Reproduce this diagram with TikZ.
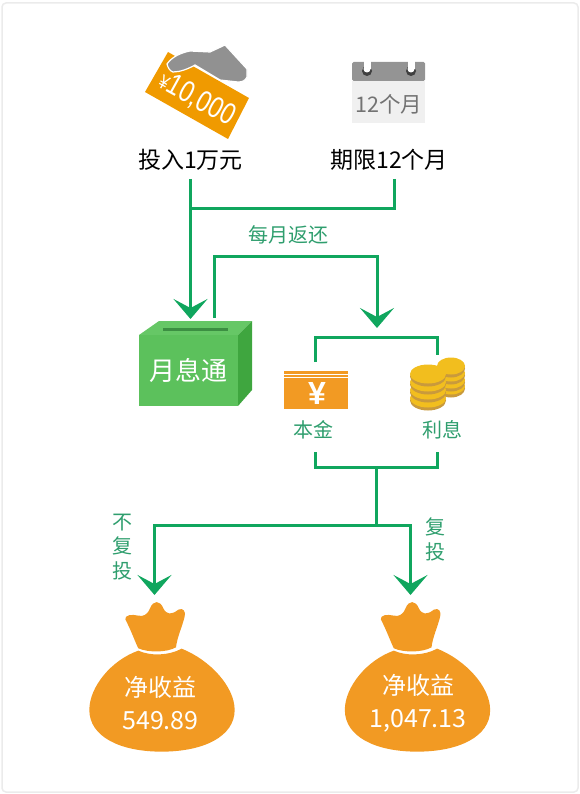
\documentclass[tikz,border=0pt]{standalone}
\usepackage{fontspec}
\setmainfont{Noto Sans CJK SC}
\newfontfamily\latinfont{Liberation Sans}
\usetikzlibrary{arrows.meta}
\definecolor{kgreen}{HTML}{10A65E}
\definecolor{ktext}{HTML}{2F9E6E}
\definecolor{korange}{HTML}{F29A23}
\definecolor{kcard}{HTML}{F09A00}
\definecolor{kgold}{HTML}{F2BE1E}
\definecolor{kedge}{HTML}{C99A3C}
\definecolor{kfront}{HTML}{5CC15C}
\definecolor{ktop}{HTML}{66C766}
\definecolor{kside}{HTML}{3FA63F}
\definecolor{kslot}{HTML}{3C8F42}
\tikzset{
  inset sep/.style={inner sep=0pt, outer sep=0pt},
  ktitle/.style={inset sep, text=black, minimum height=38pt, font=\fontsize{23}{26}\selectfont},
  klabel/.style={inset sep, text=ktext, align=center, font=\fontsize{20}{24.5}\selectfont},
  kmoney/.style={inset sep, text=white, align=center, font=\fontsize{24}{33}\selectfont},
  flow/.style={-{Stealth[length=20pt, width=34pt, inset=9pt]}, draw=kgreen, line width=3pt},
  wire/.style={draw=kgreen, line width=3pt},
  moneybag/.pic={
    \fill[korange, x=0.3333pt, y=-0.3333pt] (205,445) .. controls (195,425) and (185,395) .. (166,358)
      .. controls (164,345) and (185,342) .. (205,347) .. controls (220,350) and (232,345) .. (240,325)
      .. controls (250,300) and (270,300) .. (280,325) .. controls (290,345) and (305,345) .. (325,329)
      .. controls (340,322) and (348,335) .. (344,350) .. controls (335,385) and (322,410) .. (318,442)
      .. controls (290,458) and (235,458) .. (205,445) -- cycle;
    \fill[korange, x=0.3333pt, y=-0.3333pt] (205,452) .. controls (240,468) and (295,468) .. (335,446)
      .. controls (420,480) and (494,560) .. (494,630) .. controls (494,710) and (400,755) .. (275,755)
      .. controls (150,755) and (58,710) .. (58,630) .. controls (58,560) and (125,480) .. (205,452) -- cycle;
  },
}
\begin{document}
\begin{tikzpicture}[x=1pt, y=-1pt]
  \useasboundingbox (0,0) rectangle (580,794);
  \draw[draw=black!8, line width=1.5pt, rounded corners=4pt] (2,3) rectangle (578,792);

  \fill[fill=kcard] (145,92) -- (168,52) -- (249,98) -- (228,139) -- cycle;
  \node[inset sep, text=white, rotate=-29, font=\latinfont\fontsize{30}{30}\selectfont] (note) at (197,99)
    {\scalebox{.8}[1]{{\fontsize{20}{20}\selectfont ¥}10,000}};
  \fill[fill=black!43, draw=white, line width=1.2pt] (167,64) .. controls (172,57) and (180,53) .. (190,51)
    -- (210,52) -- (225,45) -- (247,69) -- (247,77) .. controls (245,81) and (242,82) .. (238,82)
    -- (220,80) -- (195,65) .. controls (188,69) and (180,72) .. (173,72) .. controls (170,71) and (168,68) .. (167,64) -- cycle;

  \fill[fill=black!6] (352,81) rectangle (425,123);
  \fill[fill=black!42, rounded corners=1.5pt] (352,81) -- (352,62) -- (425,62) -- (425,81) -- cycle;
  \foreach \x in {367,411}{
    \fill[black!75] (\x,71) circle[radius=5pt];
    \fill[white] (\x-3.5,61) rectangle (\x+3.5,69);
    \fill[white] (\x,69) circle[radius=3.5pt];
  }
  \node[inset sep, text=black!55, font=\fontsize{21.5}{24}\selectfont] (month) at (389,104) {12个月};

  \node[ktitle] (invest) at (190.5,160) {投入1万元};
  \node[ktitle] (term) at (389,160) {期限12个月};
  \coordinate (merge) at (190.5,208.5);
  \coordinate (boxtop) at (190.5,319);
  \draw[flow] (invest.south) -- (boxtop);
  \draw[wire] ([xshift=5pt]term.south) |- (merge);

  \fill[fill=ktop] (139,335) -- (159,321) -- (252,321) -- (238,335) -- cycle;
  \fill[fill=kside] (238,335) -- (252,321) -- (252,390) -- (238,406) -- cycle;
  \node[inset sep, fill=kfront, minimum width=99pt, minimum height=71pt, text=white,
    font=\fontsize{26}{30}\selectfont] (pool) at (188.5,370.5) {月息通};
  \fill[fill=kslot] (163,327.5) rectangle (228,330.5);
  \coordinate (payout) at (377,256);
  \coordinate (bracket) at (377,328);
  \draw[flow] ([xshift=25.5pt, yshift=17pt]pool.north) |- (payout) -- (bracket);

  \node[klabel] (monthly) at (288,235) {每月返还};

  \fill[fill=korange] (284,371) rectangle (348,373.5);
  \fill[fill=korange] (284,374.5) rectangle (348,376.5);
  \node[inset sep, fill=korange, minimum width=64pt, minimum height=31pt] (cash) at (316,393.5) {};
  \node[inset sep, text=white, font=\latinfont\bfseries\fontsize{32}{32}\selectfont] (yen) at (317,393) {¥};
  \coordinate (coins) at (437.5,371);
  \foreach \y in {386,380,373,366}{
    \fill[fill=kedge] (451,\y+2.5) ellipse[x radius=14pt, y radius=9pt];
    \fill[fill=kgold] (451,\y) ellipse[x radius=14pt, y radius=8.5pt];
  }
  \foreach \y in {398,390,382,374}{
    \fill[fill=kedge] (428,\y+2.5) ellipse[x radius=18pt, y radius=10pt];
    \fill[fill=kgold] (428,\y) ellipse[x radius=18pt, y radius=9.5pt];
  }
  \node[klabel, minimum height=44pt] (capital) at (313,430) {本金};
  \node[klabel, minimum height=44pt] (interest) at (442,430) {利息};

  \coordinate (top) at (376,337);
  \coordinate (low) at (376,467);
  \coordinate (split) at (376,525);
  \coordinate (bagleft) at (154.5,595);
  \coordinate (bagright) at (410.5,595);
  \draw[wire] ([xshift=-1pt, yshift=16pt]cash.north) |- (top) -| ([yshift=16pt]coins);
  \draw[wire] ([xshift=2pt]capital.south) |- (low) -| ([xshift=-4.5pt]interest.south);
  \draw[wire] (low) -- (split);
  \draw[flow] (split) -| (bagleft);
  \draw[flow] (split) -| (bagright);
  \node[klabel] (noagain) at (122,547) {不\\复\\投};
  \node[klabel] (again) at (435,539.5) {复\\投};

  \pic at (70,500) {moneybag};
  \pic at (325.5,500) {moneybag};
  \node[kmoney] (netleft) at (160.5,703.5) {净收益\\{\fontsize{25}{33}\selectfont 549.89}};
  \node[kmoney] (netright) at (418,703.5) {净收益\\{\fontsize{25}{33}\selectfont 1,047.13}};
\end{tikzpicture}
\end{document}
